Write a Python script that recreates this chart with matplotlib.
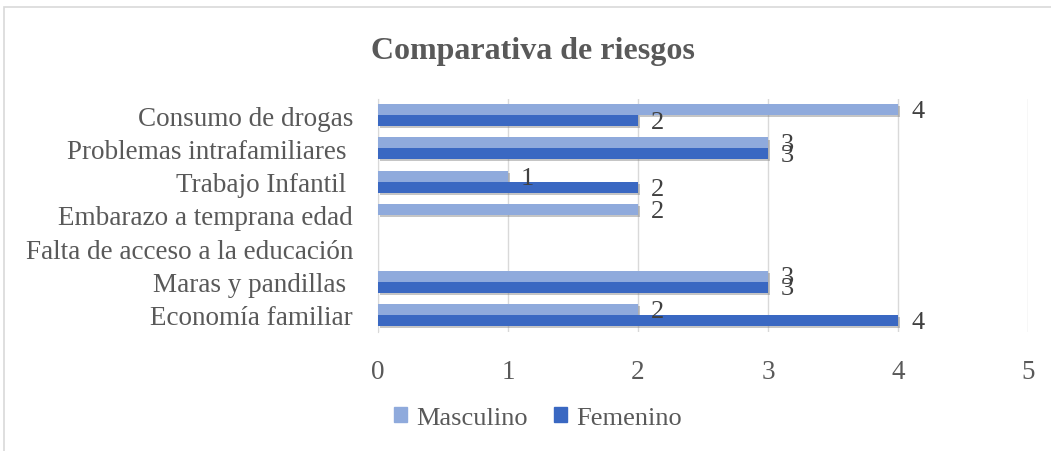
import numpy as np
import matplotlib.pyplot as plt
from matplotlib.patches import Rectangle, Patch
import matplotlib.patheffects as pe

# Data (bottom to top as drawn)
categories = ["Economía familiar", "Maras y pandillas ", "Falta de acceso a la educación",
              "Embarazo a temprana edad", "Trabajo Infantil ", "Problemas intrafamiliares ",
              "Consumo de drogas"]
masculino = [2, 3, 0, 2, 1, 3, 4]
femenino = [4, 3, 0, 0, 2, 3, 2]
x_ticks = [0, 1, 2, 3, 4, 5]

c_masc = "#8FAADC"
c_fem = "#3A68C2"

plt.rcParams["font.family"] = ["Liberation Serif", "DejaVu Serif"]

fig = plt.figure(figsize=(10.51, 4.52), dpi=100)
ax = fig.add_axes([378 / 1051, 1 - 332.5 / 452, 650 / 1051, 233 / 452])

# chart border
fig.patches.append(Rectangle((4 / 1051, -0.1), 1.2, 1 - 8 / 452 + 0.1,
                             transform=fig.transFigure, fill=False,
                             edgecolor="#D9D9D9", linewidth=1.2))

y = np.arange(len(categories))
h = 0.33
shadow = [pe.SimplePatchShadow(offset=(1.5, -1.5), shadow_rgbFace="#7f7f7f", alpha=0.45), pe.Normal()]

bm = ax.barh(y + h / 2, masculino, height=h, color=c_masc, zorder=3)
bf = ax.barh(y - h / 2, femenino, height=h, color=c_fem, zorder=3)
for b in list(bm) + list(bf):
    b.set_path_effects(shadow)

for bars, vals in [(bm, masculino), (bf, femenino)]:
    for b, v in zip(bars, vals):
        if v == 0:
            continue
        ax.text(v + 0.1, b.get_y() + b.get_height() / 2 - 0.04, str(v),
                va="center", ha="left", fontsize=19, color="#404040", zorder=4)

ax.set_xlim(0, 5)
ax.set_ylim(-0.5, len(categories) - 0.5)
ax.set_xticks(x_ticks)
ax.set_yticks(y)
ax.set_yticklabels(categories)
ax.tick_params(axis="both", length=0, labelsize=19.5, labelcolor="#595959")
ax.tick_params(axis="x", pad=20)
ax.tick_params(axis="y", pad=18)
ax.grid(axis="x", color="#D9D9D9", linewidth=1, zorder=0)
for s in ["top", "right", "bottom"]:
    ax.spines[s].set_visible(False)
ax.spines["left"].set_color("#D9D9D9")

fig.text(533 / 1051, 1 - 52 / 452, "Comparativa de riesgos", ha="center", va="center",
         fontsize=23, fontweight="bold", color="#595959")

handles = [Patch(color=c_masc), Patch(color=c_fem)]
fig.legend(handles=handles, labels=["Masculino", "Femenino"], loc="center",
           bbox_to_anchor=(538 / 1051, 1 - 419 / 452), ncol=2, frameon=False,
           fontsize=19, labelcolor="#595959", handlelength=0.5, handleheight=0.5,
           handletextpad=0.35, columnspacing=1.0)

fig.savefig("out.png", dpi=100)
